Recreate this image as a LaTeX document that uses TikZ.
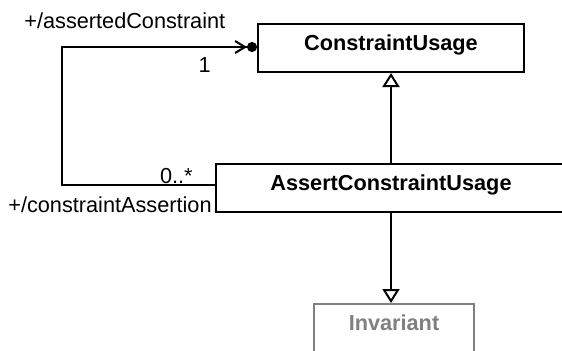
\documentclass[tikz,border=0pt]{standalone}
\usepackage{fontspec}
\setmainfont{Liberation Sans}
\usetikzlibrary{positioning,arrows.meta}
\definecolor{umlgray}{RGB}{128,128,128}
\tikzset{
  cls/.style    = {draw, line width=1pt, minimum height=24pt, inner sep=0pt, font=\fontsize{10.85}{13}\selectfont\bfseries, text height=7.8pt, text depth=5.4pt},
  ghost/.style  = {cls, draw=umlgray, text=umlgray},
  gen/.style    = {-{Triangle[length=7pt, width=8.5pt, fill=white]}, line width=1pt},
  assoc/.style  = {-{Straight Barb[length=5pt, width=6pt] Circle[length=5pt]}, line width=1pt},
  role/.style   = {font=\fontsize{10.85}{13}\selectfont, inner sep=0pt},
}

\begin{document}
\begin{tikzpicture}[x=0.5pt, y=-0.5pt]
  \useasboundingbox (0,0) rectangle (562,350);
  \clip (0,0) rectangle (562,350);
  \node[cls, minimum width=133pt] (cu) at (391,48) {ConstraintUsage};
  \node[cls, minimum width=175pt] (acu) at (391,188) {AssertConstraintUsage};
  \node[ghost, minimum width=80pt] (inv) at (394,328) {Invariant};
  \coordinate (lo) at (62,185);
  \coordinate (hi) at (62,47);
  \draw[gen] (acu.north) -- (cu.south);
  \draw[gen] (acu.south) -- (acu.south |- inv.north);
  \draw[assoc] (acu.west |- lo) -- (lo) -- (hi) -- (cu.west |- hi);
  % association ends
  \node[role, anchor=base east] (srcrole) at (212,212) {+/constraintAssertion};
  \node[role, anchor=base east] (srcmult) at (193,183) {0..*};
  \node[role, anchor=base west] (tgtrole) at (24,28) {+/assertedConstraint};
  \node[role, anchor=base east] (tgtmult) at (211,72) {1};
\end{tikzpicture}
\end{document}
